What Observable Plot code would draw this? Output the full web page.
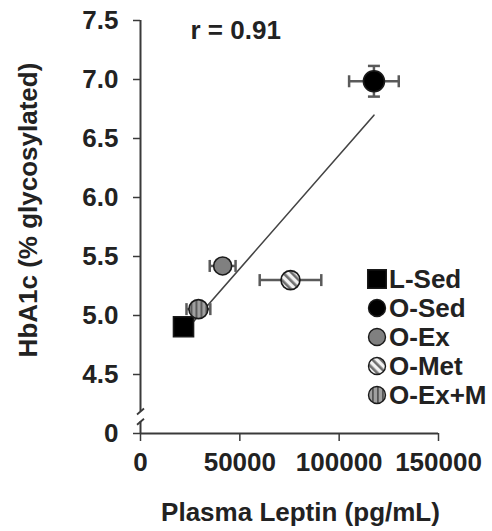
<!DOCTYPE html>
<html><head><meta charset="utf-8">
<script src="https://cdn.jsdelivr.net/npm/d3@7"></script>
<script src="https://cdn.jsdelivr.net/npm/@observablehq/plot@0.6"></script>
<style>body{margin:0;background:#fff;}</style>
</head><body><div id="chart"></div>
<script>
// ---- data ----
const groups = ["L-Sed", "O-Sed", "O-Ex", "O-Met", "O-Ex+M"];
const leptin = [21650, 117500, 41350, 75500, 29150];      // pg/mL
const leptinErr = [0, 12500, 6500, 15500, 6000];
const hba1c = [4.905, 6.985, 5.42, 5.30, 5.054];           // % glycosylated
const hba1cErr = [0, 0.13, 0, 0, 0];
const correlationLabel = "r = 0.91";
const xTicks = [0, 50000, 100000, 150000];
const yTicks = [4, 4.5, 5, 5.5, 6, 6.5, 7, 7.5];
const yTickLabels = ["0", "4.5", "5.0", "5.5", "6.0", "6.5", "7.0", "7.5"];
const xLabel = "Plasma Leptin (pg/mL)";
const yLabel = "HbA1c (% glycosylated)";
const yBreak = [4.10, 4.186]; // axis break (value 4 is drawn as "0")

// ---- styling ----
const FONT = "'Liberation Sans', Arial, sans-serif";
const FS = 26;
const style = {
  "L-Sed":  {symbol: "square", fill: "#000", r: 11.3, legendR: 10.5},
  "O-Sed":  {symbol: "circle", fill: "#000", r: 10.5, legendR: 8.5},
  "O-Ex":   {symbol: "circle", fill: "#808080", r: 9, legendR: 8.5},
  "O-Met":  {symbol: "circle", fill: "url(#hatchDiag)", r: 9.5, legendR: 8.5},
  "O-Ex+M": {symbol: "circle", fill: "url(#hatchVert)", r: 9.5, legendR: 8.5}
};
const vline = {draw(ctx) { ctx.moveTo(0, -6); ctx.lineTo(0, 6); }};
const hline = {draw(ctx) { ctx.moveTo(-6, 0); ctx.lineTo(6, 0); }};
const slash = {draw(ctx) { ctx.moveTo(-3.5, 3); ctx.lineTo(3.5, -3); }};

const rows = groups.map((g, i) => ({group: g, x: leptin[i], y: hba1c[i], xe: leptinErr[i], ye: hba1cErr[i]}));
const xErrRows = rows.filter(d => d.xe > 0);
const yErrRows = rows.filter(d => d.ye > 0);
const xCaps = xErrRows.flatMap(d => [{x: d.x - d.xe, y: d.y}, {x: d.x + d.xe, y: d.y}]);
const yCaps = yErrRows.flatMap(d => [{x: d.x, y: d.y - d.ye}, {x: d.x, y: d.y + d.ye}]);

const AX = "#3a3a3a";
const ERR = "#5a5a5a";

const svg = Plot.plot({
  width: 492,
  height: 531,
  marginLeft: 140,
  marginRight: 54,
  marginTop: 20,
  marginBottom: 98,
  style: {fontFamily: FONT, background: "#fff", color: "#222"},
  x: {domain: [0, 150000]},
  y: {domain: [yTicks[0], yTicks[yTicks.length - 1]]},
  color: {type: "identity"},
  marks: [
    Plot.axisY({ticks: yTicks, tickFormat: d => yTickLabels[yTicks.indexOf(d)], tickSize: 7, tickPadding: 15,
      fontSize: FS, fontWeight: "bold", label: null, stroke: AX, strokeWidth: 1.5}),
    Plot.axisX({ticks: xTicks, tickFormat: d3.format("d"), tickSize: 8, tickPadding: 11,
      fontSize: FS, fontWeight: "bold", label: null, stroke: AX, strokeWidth: 1.5}),
    // axis lines with break
    Plot.ruleX([0], {y1: yBreak[1], y2: yTicks[yTicks.length - 1], stroke: AX, strokeWidth: 2}),
    Plot.ruleX([0], {y1: yTicks[0], y2: yBreak[0], stroke: AX, strokeWidth: 2}),
    Plot.ruleY([yTicks[0]], {x1: xTicks[0], x2: xTicks[xTicks.length - 1], stroke: AX, strokeWidth: 2}),
    Plot.dot(yBreak, {x: () => 0, y: d => d, symbol: slash, r: 5, stroke: AX, strokeWidth: 1.8, fill: "none"}),
    // regression
    Plot.linearRegressionY(rows, {x: "x", y: "y", ci: 0, stroke: "#444", strokeWidth: 1.6}),
    // error bars
    Plot.link(xErrRows, {x1: d => d.x - d.xe, x2: d => d.x + d.xe, y1: "y", y2: "y", stroke: ERR, strokeWidth: 2.5}),
    Plot.link(yErrRows, {x1: "x", x2: "x", y1: d => d.y - d.ye, y2: d => d.y + d.ye, stroke: ERR, strokeWidth: 2.5}),
    Plot.dot(xCaps, {x: "x", y: "y", symbol: vline, r: 6, stroke: ERR, strokeWidth: 2.5, fill: "none"}),
    Plot.dot(yCaps, {x: "x", y: "y", symbol: hline, r: 6, stroke: ERR, strokeWidth: 2.5, fill: "none"}),
    // points
    ...rows.map(d => Plot.dot([d], {x: "x", y: "y", symbol: style[d.group].symbol, r: style[d.group].r,
      fill: () => style[d.group].fill, stroke: "#1a1a1a", strokeWidth: 1.6})),
    // texts
    Plot.text([correlationLabel], {frameAnchor: "top-left", dx: 50, dy: 10, textAnchor: "start", lineAnchor: "middle",
      fontSize: FS, fontWeight: "bold", fill: "#222"}),
    Plot.text([xLabel], {frameAnchor: "bottom", dx: 11, dy: 87, textAnchor: "middle", lineAnchor: "bottom",
      fontSize: FS, fontWeight: "bold", fill: "#222"}),
    Plot.text([yLabel], {frameAnchor: "left", rotate: -90, dx: -112, dy: -17, textAnchor: "middle", lineAnchor: "middle",
      fontSize: FS, fontWeight: "bold", fill: "#222"})
  ]
});

// patterns
const defs = d3.select(svg).insert("defs", ":first-child");
const pd = defs.append("pattern").attr("id", "hatchDiag").attr("patternUnits", "userSpaceOnUse")
  .attr("width", 6).attr("height", 6).attr("patternTransform", "rotate(-45)");
pd.append("rect").attr("width", 6).attr("height", 6).attr("fill", "#f2f2f2");
pd.append("rect").attr("width", 2.6).attr("height", 6).attr("fill", "#6e6e6e");
const pv = defs.append("pattern").attr("id", "hatchVert").attr("patternUnits", "userSpaceOnUse")
  .attr("width", 5).attr("height", 5);
pv.append("rect").attr("width", 5).attr("height", 5).attr("fill", "#a0a0a0");
pv.append("rect").attr("width", 1.8).attr("height", 5).attr("fill", "#555");

// legend
const lg = d3.select(svg).append("g").attr("transform", "translate(377,279)");
groups.forEach((g, i) => {
  const s = style[g];
  const row = lg.append("g").attr("transform", `translate(0,${i * 29})`);
  const r = s.legendR;
  row.append("path")
    .attr("d", d3.symbol(s.symbol === "square" ? d3.symbolSquare : d3.symbolCircle, Math.PI * r * r)())
    .attr("fill", s.fill).attr("stroke", "#1a1a1a").attr("stroke-width", 1.4);
  row.append("text").attr("x", 12).attr("y", 0).attr("dy", "0.35em").attr("text-anchor", "start")
    .attr("font-size", FS).attr("font-weight", "bold").attr("fill", "#222").attr("font-family", FONT).text(g);
});

document.getElementById("chart").append(svg);
</script>
</body></html>
